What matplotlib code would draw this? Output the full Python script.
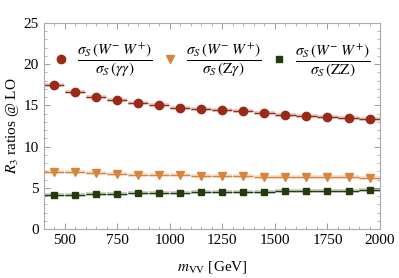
import numpy as np
import matplotlib.pyplot as plt
from matplotlib.ticker import MultipleLocator

plt.rcParams['font.family'] = ['Liberation Serif', 'DejaVu Serif']
plt.rcParams['mathtext.fontset'] = 'stix'

# bin centres (GeV), 100 GeV bins from 400 to 2000
m_vv = np.arange(450, 2000, 100)
bin_width = 100

ratio_aa = [17.45, 16.65, 16.04, 15.64, 15.24, 14.99, 14.72, 14.56,
            14.40, 14.28, 14.03, 13.88, 13.73, 13.61, 13.49, 13.37]
ratio_za = [6.95, 6.86, 6.76, 6.68, 6.61, 6.56, 6.51, 6.46,
            6.43, 6.40, 6.37, 6.35, 6.32, 6.30, 6.28, 6.25]
ratio_zz = [4.10, 4.17, 4.24, 4.28, 4.33, 4.37, 4.40, 4.44,
            4.47, 4.50, 4.53, 4.56, 4.59, 4.62, 4.65, 4.68]

labels = [r'$\dfrac{\sigma_S\,(W^{-}\;W^{+})}{\sigma_S\,(\gamma\gamma)}$',
          r'$\dfrac{\sigma_S\,(W^{-}\;W^{+})}{\sigma_S\,(\mathrm{Z}\gamma)}$',
          r'$\dfrac{\sigma_S\,(W^{-}\;W^{+})}{\sigma_S\,(\mathrm{ZZ})}$']
colors = ['#9a2a18', '#d7843c', '#263a10']
markers = ['o', 'v', 's']
msizes = [6, 6, 5]

fig = plt.figure(figsize=(3.99, 2.78), dpi=100)
ax = fig.add_axes([0.1095, 0.176, 0.843, 0.742])

handles = []
for vals, c, mk, ms, lab in zip([ratio_aa, ratio_za, ratio_zz], colors, markers, msizes, labels):
    vals = np.array(vals)
    lo = m_vv - bin_width / 2
    hi = m_vv + bin_width / 2
    # light band + dark line per bin
    ax.hlines(vals, lo + 2, hi - 2, colors=c, lw=2.6, alpha=0.28)
    ax.hlines(vals, lo + 2, hi - 2, colors=c, lw=0.9)
    h, = ax.plot(m_vv, vals, ls='none', marker=mk, ms=ms, color=c, label=lab)
    handles.append(h)

ax.set_xlim(400, 2000)
ax.set_ylim(0, 25)
ax.xaxis.set_major_locator(MultipleLocator(250))
ax.xaxis.set_minor_locator(MultipleLocator(50))
ax.yaxis.set_major_locator(MultipleLocator(5))
ax.yaxis.set_minor_locator(MultipleLocator(1))
ax.tick_params(which='both', direction='in', top=True, right=True, colors='#999999',
               labelcolor='black', labelsize=11)
ax.tick_params(which='major', length=4, width=0.7)
ax.tick_params(which='minor', length=2, width=0.5)
for sp in ax.spines.values():
    sp.set_color('#aaaaaa')
    sp.set_linewidth(0.8)

ax.set_xlabel(r'$m_{\mathrm{VV}}$ [GeV]', fontsize=11, labelpad=9)
ax.set_ylabel(r'$R_3$ ratios @ LO', fontsize=11, labelpad=2)

ax.legend(handles=handles, ncol=3, loc='upper center', bbox_to_anchor=(0.5, 0.935),
          frameon=False, fontsize=11, handletextpad=0.5, columnspacing=0.7,
          handlelength=1.0, borderaxespad=0)

fig.savefig('out.png', dpi=100)
